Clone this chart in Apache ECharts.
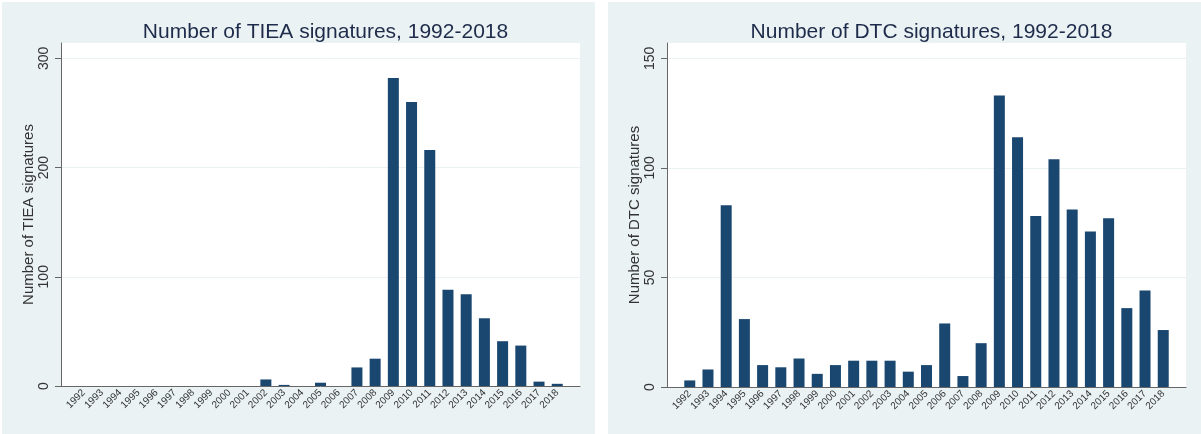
<!DOCTYPE html>
<html><head><meta charset="utf-8">
<script src="https://cdn.jsdelivr.net/npm/echarts@6/dist/echarts.min.js"></script>
<style>html,body{margin:0;padding:0;background:#fff}#c{width:1201px;height:434px}</style>
</head><body><div id="c"></div>
<script>
const years = [1992,1993,1994,1995,1996,1997,1998,1999,2000,2001,2002,2003,2004,2005,2006,2007,2008,2009,2010,2011,2012,2013,2014,2015,2016,2017,2018];
const tieaCounts = [0,0,0,0,0,0,0,0,0,0,6,1,0,3,0,17,25,282,260,216,88,84,62,41,37,4,2];
const dtcCounts = [3,8,83,31,10,9,13,6,10,12,12,12,7,10,29,5,20,133,114,78,104,81,71,77,36,44,26];
const tieaTicks = [0,100,200,300];
const dtcTicks = [0,50,100,150];
const titles = ['Number of TIEA signatures, 1992-2018','Number of DTC signatures, 1992-2018'];
const yNames = ['Number of TIEA signatures','Number of DTC signatures'];

const FONT = 'Liberation Sans, Arial, sans-serif';
const BAR = '#1a476f';
const BG = '#eaf2f3';
const chart = echarts.init(document.getElementById('c'), null, {renderer:'canvas'});

const grids = [
  {left:61, right:1201-580, top:43, bottom:434-386, show:true, backgroundColor:'#fff', borderWidth:0, containLabel:false},
  {left:667, right:1201-1186, top:43, bottom:434-387, show:true, backgroundColor:'#fff', borderWidth:0, containLabel:false}
];
function xAx(i){
  return {type:'value', gridIndex:i, min:years[0]-1.25, max:years[years.length-1]+1.25,
    axisLine:{show:true, onZero:false, lineStyle:{color:'#666', width:1}},
    axisTick:{show:false},
    splitLine:{show:false},
    axisLabel:{customValues:years, rotate:45, fontSize:10, color:'#333', fontFamily:FONT, margin:5,
      formatter:v=>String(v), showMinLabel:true, showMaxLabel:true}
  };
}
function yAx(i, max, ticks){
  return {type:'value', gridIndex:i, min:0, max:max,
    name:yNames[i], nameLocation:'middle', nameGap:25, nameRotate:90,
    nameTextStyle:{fontSize:15, color:'#333', fontFamily:FONT},
    axisLine:{show:true, lineStyle:{color:'#666', width:1}},
    axisTick:{show:true, customValues:ticks, length:6, lineStyle:{color:'#666'}},
    splitLine:{show:true, lineStyle:{color:BG, width:1}},
    axisLabel:{customValues:ticks, rotate:90, fontSize:14, color:'#333', fontFamily:FONT, margin:10}
  };
}
function series(i, vals){
  return {type:'bar', xAxisIndex:i, yAxisIndex:i, barWidth:11,
    data: years.map((y,k)=>[y, vals[k]]),
    itemStyle:{color:BAR, borderWidth:0},
    silent:true, animation:false};
}
chart.setOption({
  animation:false,
  backgroundColor:'#fff',
  graphic:[
    {type:'rect', shape:{x:2,y:2,width:593,height:432}, style:{fill:BG}, z:-10},
    {type:'rect', shape:{x:608,y:2,width:593,height:432}, style:{fill:BG}, z:-10}
  ],
  title:[
    {text:titles[0], left:320.5, top:17, textAlign:'center', textStyle:{fontSize:21, fontWeight:'normal', color:'#1e2b4a', fontFamily:FONT}},
    {text:titles[1], left:926.5, top:17, textAlign:'center', textStyle:{fontSize:21, fontWeight:'normal', color:'#1e2b4a', fontFamily:FONT}}
  ],
  grid:grids,
  xAxis:[xAx(0), xAx(1)],
  yAxis:[yAx(0, 314, tieaTicks), yAx(1, 157, dtcTicks)],
  series:[series(0, tieaCounts), series(1, dtcCounts)]
});
</script></body></html>
